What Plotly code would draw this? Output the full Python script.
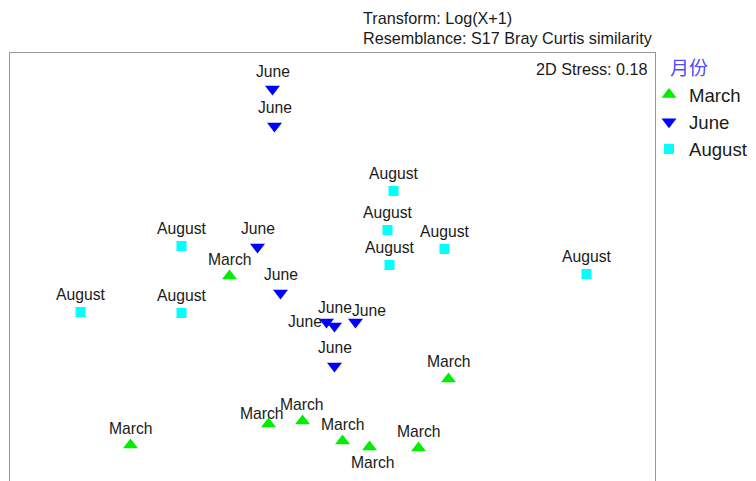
import plotly.graph_objects as go

# ---- data (NMDS coordinates) ----
march_x = [-2.02, -1.03, -0.64, -0.30, 0.10, 0.37, 0.86, 1.16]
march_y = [-1.78, -0.09, -1.57, -1.54, -1.74, -1.80, -1.81, -1.12]
june_x = [-0.60, -0.58, -0.75, -0.52, -0.06, 0.02, 0.23, 0.02]
june_y = [1.78, 1.41, 0.20, -0.26, -0.55, -0.59, -0.55, -0.99]
august_x = [-1.51, -2.52, -1.51, 0.61, 0.55, 0.57, 1.12, 2.54]
august_y = [0.21, -0.45, -0.46, 0.76, 0.37, 0.02, 0.18, -0.07]

group_names = ["March", "June", "August"]
legend_title = "月份"
header_lines = ["Transform: Log(X+1)", "Resemblance: S17 Bray Curtis similarity"]
stress_text = "2D Stress: 0.18"

# ---- label placement (pixel shifts, style only) ----
march_shift = [(0, 17), (0, 17), (-7, 11), (-1, 17), (0, 17), (3, -15), (0, 17), (0, 18)]
june_shift = [(0, 18), (0, 19), (0, 19), (0, 19), (-22, 1), (0, 19), (13, 12), (0, 19)]
august_shift = [(0, 18)] * 8

OFF = 8  # page body margin
W, H = 756 - OFF, 481 - OFF
ML, MT, MB = 10 - OFF, 53 - OFF, 0
MR = W - (655 - OFF)

styles = {
    "March": dict(symbol="triangle-up", color="#00ee00", size=13),
    "June": dict(symbol="triangle-down", color="#0000ff", size=13),
    "August": dict(symbol="square", color="#00ffff", size=10),
}

series = [
    ("March", march_x, march_y, march_shift),
    ("June", june_x, june_y, june_shift),
    ("August", august_x, august_y, august_shift),
]

fig = go.Figure()
annotations = []
label_font = dict(family="Liberation Sans, Arial, sans-serif", size=15.7, color="#1a1a1a")
for name, xs, ys, shifts in series:
    st = styles[name]
    fig.add_trace(go.Scatter(
        x=xs, y=ys, mode="markers", name=name,
        marker=dict(symbol=st["symbol"], color=st["color"], size=st["size"], line=dict(width=0)),
        hoverinfo="x+y+name",
    ))
    for x, y, (dx, dy) in zip(xs, ys, shifts):
        annotations.append(dict(
            x=x, y=y, xref="x", yref="y", text=name, showarrow=False,
            xshift=dx, yshift=dy, font=label_font,
        ))

pw = W - ML - MR
ph = H - MT - MB


def px_x(p):
    return (p - OFF - ML) / pw


def px_y(p):
    return (H - MB - (p - OFF)) / ph


hdr_font = dict(family="Liberation Sans, Arial, sans-serif", size=16.2, color="#1a1a1a")
for i, line in enumerate(header_lines):
    annotations.append(dict(
        x=px_x(361), y=px_y(18 + 20 * i), xref="paper", yref="paper",
        text=line, showarrow=False, xanchor="left", yanchor="middle", font=hdr_font,
    ))
annotations.append(dict(
    x=px_x(650), y=px_y(69), xref="paper", yref="paper",
    text=stress_text, showarrow=False, xanchor="right", yanchor="middle", font=hdr_font,
))

title_color = "#4d4dff"
annotations.append(dict(
    x=px_x(668), y=px_y(66), xref="paper", yref="paper",
    text=legend_title, showarrow=False, xanchor="left", yanchor="middle",
    font=dict(family="Noto Sans CJK SC, sans-serif", size=19, color=title_color),
))

frame_color = "#9a9a9a"
fig.update_layout(
    width=W, height=H,
    margin=dict(l=ML, r=MR, t=MT, b=MB, pad=0),
    paper_bgcolor="white", plot_bgcolor="white",
    annotations=annotations,
    showlegend=True,
    legend=dict(
        x=px_x(649), y=px_y(76), xanchor="left", yanchor="top",
        font=dict(family="Liberation Sans, Arial, sans-serif", size=18.6, color="#1a1a1a"),
        bgcolor="rgba(0,0,0,0)", borderwidth=0, tracegroupgap=0, itemsizing="trace",
    ),
    xaxis=dict(range=[-3.225, 3.225], showgrid=False, zeroline=False, showticklabels=False,
               ticks="", showline=True, linecolor=frame_color, linewidth=1, side="top", mirror=False),
    yaxis=dict(range=[-2.14, 2.14], showgrid=False, zeroline=False, showticklabels=False,
               ticks="", showline=True, linecolor=frame_color, linewidth=1, mirror=True),
)

fig.write_html("out.html")
